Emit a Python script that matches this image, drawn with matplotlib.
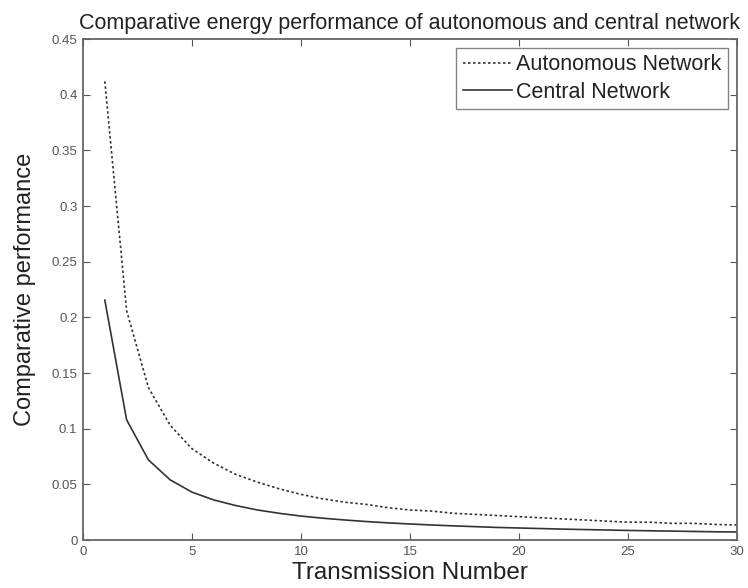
import matplotlib
matplotlib.use("Agg")
import matplotlib.pyplot as plt

plt.rcParams['font.family'] = ['Liberation Sans', 'DejaVu Sans']

transmissions = list(range(1, 31))
autonomous = [0.412, 0.206, 0.137, 0.103, 0.082, 0.069, 0.059, 0.052, 0.046, 0.041,
              0.037, 0.034, 0.032, 0.029, 0.027, 0.026, 0.024, 0.023, 0.022, 0.021,
              0.020, 0.019, 0.018, 0.017, 0.016, 0.016, 0.015, 0.015, 0.014, 0.0135]
central = [0.2155, 0.108, 0.072, 0.054, 0.043, 0.036, 0.031, 0.027, 0.024, 0.0215,
           0.0196, 0.018, 0.0166, 0.0154, 0.0144, 0.0135, 0.0127, 0.012, 0.0113, 0.0108,
           0.0103, 0.0098, 0.0094, 0.009, 0.0086, 0.0083, 0.008, 0.0077, 0.0074, 0.0072]
xticks = [0, 5, 10, 15, 20, 25, 30]
yticks = [0, 0.05, 0.1, 0.15, 0.2, 0.25, 0.3, 0.35, 0.4, 0.45]
yticklabels = ['0', '0.05', '0.1', '0.15', '0.2', '0.25', '0.3', '0.35', '0.4', '0.45']

fig = plt.figure(figsize=(7.48, 5.88), dpi=100)
ax = fig.add_axes([0.111, 0.0816, 0.874, 0.852])

ax.plot(transmissions, autonomous, linestyle=(0, (1.5, 1.5)), color='#333333', lw=1.2,
        label='Autonomous Network')
ax.plot(transmissions, central, linestyle='-', color='#333333', lw=1.2,
        label='Central Network')

ax.set_xlim(0, 30)
ax.set_ylim(0, 0.45)
ax.set_xticks(xticks)
ax.set_yticks(yticks)
ax.set_yticklabels(yticklabels)
ax.tick_params(direction='in', top=True, right=True, length=5, width=0.8, pad=4,
               labelsize=9.5, colors='#555555', labelcolor='#555555')
for sp in ax.spines.values():
    sp.set_color('#666666')
    sp.set_linewidth(1.3)

ax.set_title('Comparative energy performance of autonomous and central network',
             fontsize=15.5, color='#222222', pad=7)
ax.set_xlabel('Transmission Number', fontsize=17.5, color='#222222', labelpad=3)
ax.set_ylabel('Comparative performance', fontsize=17, color='#222222', labelpad=11)

leg = ax.legend(loc='upper right', fontsize=15.5, frameon=True, fancybox=False,
                edgecolor='#666666', handlelength=2.3, borderpad=0.3,
                labelspacing=0.3, borderaxespad=0.4, handletextpad=0.2)
leg.get_frame().set_linewidth(1.0)
for t in leg.get_texts():
    t.set_color('#222222')

fig.savefig('out.png', dpi=100)
